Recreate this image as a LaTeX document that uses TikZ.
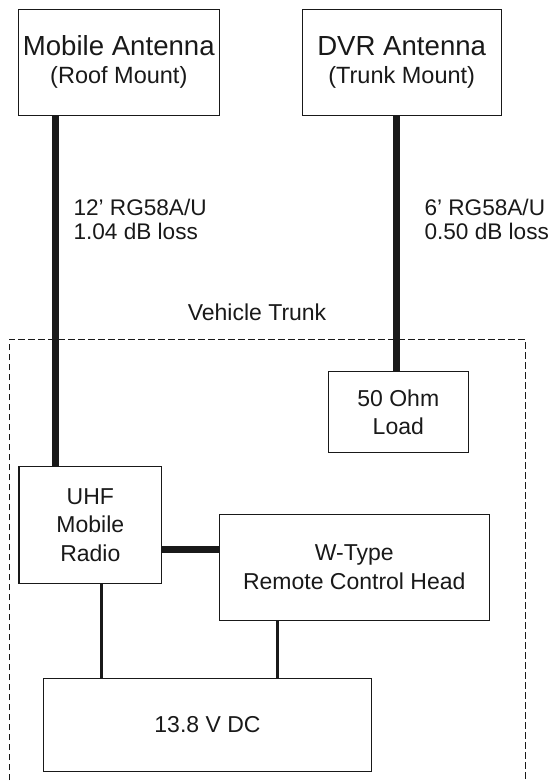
\documentclass[tikz,border=0pt]{standalone}
\usepackage{fontspec}
\setmainfont{Liberation Sans}
\usetikzlibrary{positioning}
\definecolor{ink}{RGB}{25,25,25}
\tikzset{
  unit/.style={draw=ink,line width=1.1pt,inner sep=0pt,outer sep=0pt,align=center,text=ink,font=\fontsize{23}{28.5}\selectfont},
  antbox/.style={unit,font=\fontsize{23.5}{27.7}\selectfont},
  coax/.style={line width=7pt,ink},
  pwr/.style={line width=3pt,ink},
  trunk/.style={ink,line width=1pt,dash pattern=on 6.5pt off 3.5pt},
  lab/.style={text=ink,align=left,font=\fontsize{22.6}{24}\selectfont}
}
\newcommand{\bigline}[1]{{\fontsize{27.6}{27.7}\selectfont #1}}

\begin{document}
\begin{tikzpicture}[x=1pt,y=-1pt]
    \useasboundingbox (0,0) rectangle (553,782);
    % antennas
    \node[antbox,minimum width=201pt,minimum height=105.7pt] (mant) at (118.8,62.2) {\bigline{Mobile Antenna}\\(Roof Mount)};
    \node[antbox,minimum width=198.7pt,minimum height=105.7pt] (dvr) at (401.7,62.2) {\bigline{DVR Antenna}\\(Trunk Mount)};
    % trunk contents
    \draw[trunk] (9,800) -- (9,339) -- (525,339) -- (525,800);
    \node[text=ink,font=\fontsize{23}{28}\selectfont] (vtrunk) at (257,312) {Vehicle Trunk};
    \node[unit,minimum width=140pt,minimum height=81pt] (load) at (398.3,412.2) {50 Ohm\\Load};
    \node[unit,minimum width=142.7pt,minimum height=117.3pt] (uhf) at (90.3,524.7) {UHF\\Mobile\\Radio};
    \node[unit,minimum width=270pt,minimum height=105.7pt] (wtype) at (354.3,567.2) {W-Type\\Remote Control Head};
    \node[unit,minimum width=328.4pt,minimum height=93.4pt] (dc) at (207.5,725) {13.8 V DC};
    % cables
    \draw[coax] ([xshift=36.7pt]mant.south west) -- ([xshift=36.7pt]mant.south west |- uhf.north);
    \draw[coax] ([xshift=-5.7pt]dvr.south) -- ([xshift=-5.7pt]dvr.south |- load.north);
    \draw[coax] ([yshift=-25pt]uhf.east) -- ([yshift=-25pt]uhf.east -| wtype.west);
    \draw[pwr] ([xshift=11.4pt]uhf.south) -- ([xshift=11.4pt]uhf.south |- dc.north);
    \draw[pwr] ([xshift=-76.8pt]wtype.south) -- ([xshift=-76.8pt]wtype.south |- dc.north);
    \node[lab,anchor=west] (cab1) at (70,219.6) {12’ RG58A/U\\1.04 dB loss};
    \node[lab,anchor=west] (cab2) at (421,219.6) {6’ RG58A/U\\0.50 dB loss};
\end{tikzpicture}
\end{document}
